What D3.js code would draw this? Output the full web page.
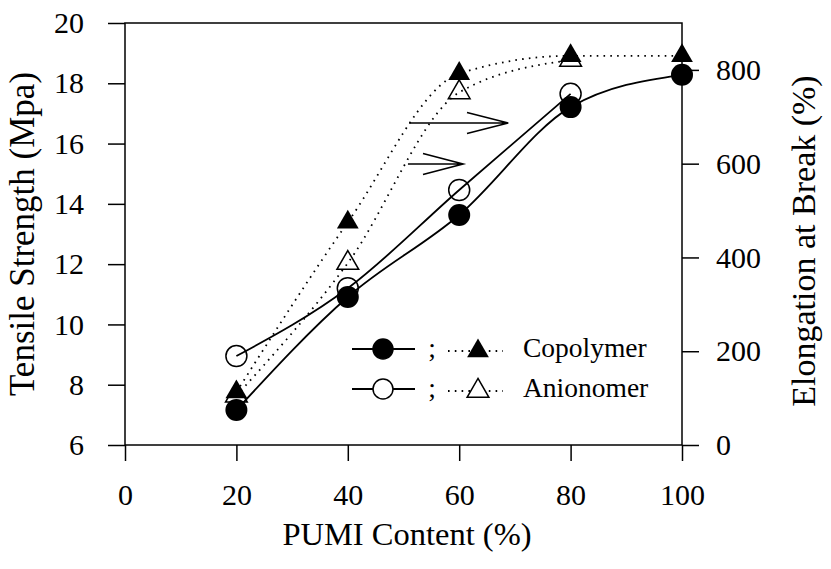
<!DOCTYPE html>
<html>
<head>
<meta charset="utf-8">
<script src="https://cdn.jsdelivr.net/npm/d3@7"></script>
<style>
  html, body { margin: 0; padding: 0; background: #fff; }
  svg { display: block; }
  text { font-family: "Liberation Serif", "Times New Roman", serif; fill: #000; }
</style>
</head>
<body>
<svg id="chart" width="831" height="569"></svg>
<script>
// ---- data ----
const xTicks = [0, 20, 40, 60, 80, 100];
const leftTicks = [6, 8, 10, 12, 14, 16, 18, 20];
const rightTicks = [0, 200, 400, 600, 800];

const contentCopolymer = [20, 40, 60, 80, 100];
const tensileCopolymer = [7.16, 10.91, 13.63, 17.21, 18.28];
const elongCopolymer = [113, 475, 792, 830, 830];

const contentAnionomer = [20, 40, 60, 80];
const tensileAnionomer = [8.95, 11.2, 14.46, 17.65];
const elongAnionomer = [105, 388, 752, 821];

const seriesNames = ["Copolymer", "Anionomer"];

// arrows (data coordinates: x = PUMI content, y = tensile strength)
const arrowStartX = [51.0, 50.8];
const arrowEndX = [68.8, 60.7];
const arrowBarbX = [61.4, 53.5];
const arrowY = [16.68, 15.32];

// ---- layout ----
const svg = d3.select("#chart");
const L = 125, R = 682, T = 23, B = 445;

const x = d3.scaleLinear().domain([0, 100]).range([L, R]);
const yL = d3.scaleLinear().domain([6, 20]).range([B, T]);
const yR = d3.scaleLinear().domain([0, 900]).range([B, T]);

const tickFont = 30;

// frame
svg.append("rect").attr("x", L).attr("y", T).attr("width", R - L).attr("height", B - T)
  .attr("fill", "none").attr("stroke", "#000").attr("stroke-width", 1.5);

// bottom axis
const gx = svg.append("g").attr("transform", `translate(0,${B})`)
  .call(d3.axisBottom(x).tickValues(xTicks).tickSize(16).tickPadding(23).tickFormat(d3.format("d")));
// left axis
const gl = svg.append("g").attr("transform", `translate(${L},0)`)
  .call(d3.axisLeft(yL).tickValues(leftTicks).tickSize(17).tickPadding(24).tickFormat(d3.format("d")));
// right axis
const gr = svg.append("g").attr("transform", `translate(${R},0)`)
  .call(d3.axisRight(yR).tickValues(rightTicks).tickSize(17).tickPadding(17).tickFormat(d3.format("d")));

[gx, gl, gr].forEach(g => {
  g.select(".domain").remove();
  g.selectAll(".tick line").attr("stroke", "#000").attr("stroke-width", 1.5);
  g.selectAll(".tick text").attr("font-size", tickFont)
    .attr("font-family", '"Liberation Serif", "Times New Roman", serif').attr("fill", "#000");
});

// axis titles
svg.append("text").attr("x", 407).attr("y", 545).attr("text-anchor", "middle")
  .attr("font-size", 32.5).text("PUMI Content (%)");
svg.append("text").attr("transform", `translate(34,${(T + B) / 2}) rotate(-90)`)
  .attr("text-anchor", "middle").attr("font-size", 35).text("Tensile Strength (Mpa)");
svg.append("text").attr("transform", `translate(815,${(T + B) / 2 + 7}) rotate(-90)`)
  .attr("text-anchor", "middle").attr("font-size", 34).text("Elongation at Break (%)");

// curves
const lineT = d3.line().curve(d3.curveMonotoneX).x(d => x(d[0])).y(d => yL(d[1]));
const lineE = d3.line().curve(d3.curveMonotoneX).x(d => x(d[0])).y(d => yR(d[1]));

const tc = d3.zip(contentCopolymer, tensileCopolymer);
const ta = d3.zip(contentAnionomer, tensileAnionomer);
const ec = d3.zip(contentCopolymer, elongCopolymer);
const ea = d3.zip(contentAnionomer, elongAnionomer);

const solidStyle = p => p.attr("fill", "none").attr("stroke", "#000").attr("stroke-width", 1.8);
const dotStyle = p => p.attr("fill", "none").attr("stroke", "#000").attr("stroke-width", 1.8)
  .attr("stroke-dasharray", "1.6,5.2").attr("stroke-linecap", "butt");

svg.append("path").datum(tc).attr("d", lineT).call(solidStyle);
svg.append("path").datum(ta).attr("d", lineT).call(solidStyle);
svg.append("path").datum(ec).attr("d", lineE).call(dotStyle);
svg.append("path").datum(ea).attr("d", lineE).call(dotStyle);

// arrows
arrowY.forEach((yy, i) => {
  const x0 = x(arrowStartX[i]), x1 = x(arrowEndX[i]), xb = x(arrowBarbX[i]), py = yL(yy);
  svg.append("path")
    .attr("d", `M${x0},${py}L${x1},${py}M${xb},${py - 10.5}L${x1},${py}L${xb},${py + 10.5}`)
    .attr("fill", "none").attr("stroke", "#000").attr("stroke-width", 1.6);
});

// markers
const tri = d3.symbol().type(d3.symbolTriangle).size(205);
const triPath = tri();

svg.selectAll(".ta").data(ea).join("path").attr("class", "ta")
  .attr("d", triPath).attr("transform", d => `translate(${x(d[0])},${yR(d[1])})`)
  .attr("fill", "none").attr("stroke", "#000").attr("stroke-width", 1.5);
svg.selectAll(".tcm").data(ec).join("path").attr("class", "tcm")
  .attr("d", triPath).attr("transform", d => `translate(${x(d[0])},${yR(d[1])})`)
  .attr("fill", "#000");

svg.selectAll(".ca").data(ta).join("circle").attr("class", "ca")
  .attr("cx", d => x(d[0])).attr("cy", d => yL(d[1])).attr("r", 10.5)
  .attr("fill", "none").attr("stroke", "#000").attr("stroke-width", 1.5);
svg.selectAll(".cc").data(tc).join("circle").attr("class", "cc")
  .attr("cx", d => x(d[0])).attr("cy", d => yL(d[1])).attr("r", 11)
  .attr("fill", "#000");

// legend
const legRows = [349, 389];
seriesNames.forEach((name, i) => {
  const ly = legRows[i];
  svg.append("line").attr("x1", 352).attr("x2", 415).attr("y1", ly).attr("y2", ly)
    .attr("stroke", "#000").attr("stroke-width", 1.8);
  svg.append("circle").attr("cx", 383).attr("cy", ly).attr("r", 10)
    .attr("fill", i === 0 ? "#000" : "#fff").attr("stroke", "#000").attr("stroke-width", 1.5);
  svg.append("text").attr("x", 432).attr("y", ly + 8).attr("text-anchor", "middle")
    .attr("font-size", 27.5).text(";");
  svg.append("line").attr("x1", 448).attr("x2", 503).attr("y1", ly + 2).attr("y2", ly + 2)
    .call(dotStyle);
  svg.append("path").attr("d", triPath).attr("transform", `translate(478,${ly + 2})`)
    .attr("fill", i === 0 ? "#000" : "#fff").attr("stroke", "#000").attr("stroke-width", i === 0 ? 0 : 1.5);
  svg.append("text").attr("x", 523).attr("y", ly + 8).attr("font-size", 27.5).text(name);
});
</script>
</body>
</html>
